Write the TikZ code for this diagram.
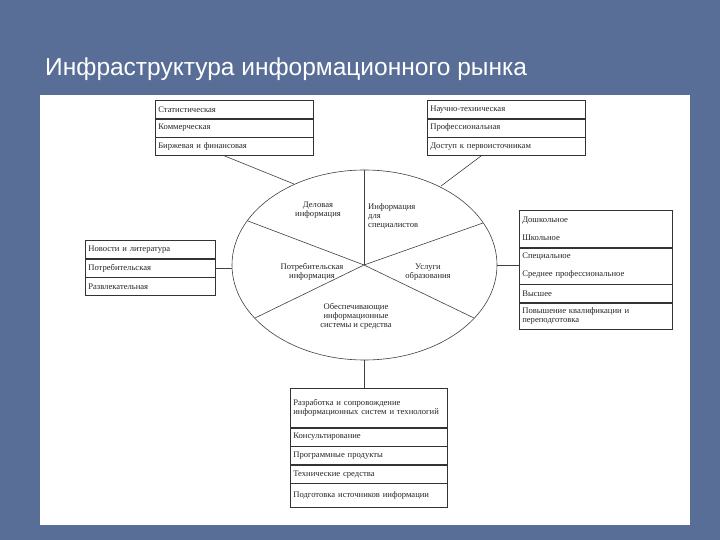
\documentclass[tikz,border=0pt]{standalone}
\usepackage{fontspec}
\usetikzlibrary{shapes.geometric}
\setmainfont{Liberation Serif}
\newfontfamily\titlefont{Liberation Sans}
\begin{document}
\begin{tikzpicture}[x=1pt,y=-1pt,
  cell/.style={draw=black!80,line width=0.6pt,minimum height=18pt,text width=#1,align=left,inner sep=3pt,anchor=north west,font=\fontsize{8.6}{9}\selectfont,text=black!85},
  lbl/.style={font=\fontsize{8.6}{9}\selectfont,align=center,inner sep=0pt,text=black!85},
  ln/.style={draw=black!75,line width=0.6pt}]
\useasboundingbox (0,0) rectangle (720,540);
\fill[color={rgb,255:red,88;green,110;blue,150}] (0,0) rectangle (720,540);
\fill[white] (40,95) rectangle (690,525);
\node[anchor=west,text=white,font=\titlefont\fontsize{24.5}{26}\selectfont,inner sep=0pt] (title) at (45,69) {Инфраструктура информационного рынка};
% ellipse
\node[draw=black!75,line width=0.6pt,ellipse,minimum width=265pt,minimum height=190pt] (E) at (364.5,265) {};
\coordinate (c) at (364,265);
\coordinate (pt) at (364,170);
\coordinate (pul) at (248,221);
\coordinate (pur) at (483,223);
\coordinate (pll) at (255,318);
\coordinate (plr) at (474,318);
\draw[ln] (c) -- (pt); \draw[ln] (c) -- (pul); \draw[ln] (c) -- (pur);
\draw[ln] (c) -- (pll); \draw[ln] (c) -- (plr);
\node[lbl] (l1) at (318,210) {Деловая\\информация};
\node[lbl,align=left,anchor=west] (l2) at (368,216) {Информация\\для\\специалистов};
\node[lbl] (l3) at (312,272) {Потребительская\\информация};
\node[lbl] (l4) at (428,272) {Услуги\\образования};
\node[lbl] (l5) at (356,316) {Обеспечивающие\\информационные\\системы и средства};
% top-left
\node[cell=152pt] (a1) at (155,100) {Статистическая};
\node[cell=152pt] (a2) at (a1.south west) {Коммерческая};
\node[cell=152pt] (a3) at (a2.south west) {Биржевая и финансовая};
% top-right
\node[cell=152pt] (b1) at (427,100) {Научно-техническая};
\node[cell=152pt] (b2) at (b1.south west) {Профессиональная};
\node[cell=152pt] (b3) at (b2.south west) {Доступ к первоисточникам};
\coordinate (ea) at (294,184);
\coordinate (eb) at (441,186);
\draw[ln] ([xshift=-10pt]a3.south) -- (ea);
\draw[ln] ([xshift=-25pt]b3.south) -- (eb);
% left
\node[cell=124pt] (c1) at (85,240) {Новости и литература};
\node[cell=124pt] (c2) at (c1.south west) {Потребительская};
\node[cell=124pt] (c3) at (c2.south west) {Развлекательная};
\draw[ln] (c2.east) -- (c2.east -| E.west);
% right
\node[cell=147pt,minimum height=37pt,font=\fontsize{8.6}{18.5}\selectfont] (d1) at (519,210) {Дошкольное\\Школьное};
\node[cell=147pt,minimum height=36pt,font=\fontsize{8.6}{18}\selectfont] (d2) at (d1.south west) {Специальное\\Среднее профессиональное};
\node[cell=147pt] (d3) at (d2.south west) {Высшее};
\node[cell=147pt,minimum height=26pt] (d4) at (d3.south west) {Повышение квалификации и переподготовка};
\draw[ln] (E.east) -- (E.east -| d1.west);
% bottom
\node[cell=151pt,minimum height=39pt] (f1) at (290,388) {Разработка и сопровождение информационных систем и технологий};
\node[cell=151pt] (f2) at (f1.south west) {Консультирование};
\node[cell=151pt] (f3) at (f2.south west) {Программные продукты};
\node[cell=151pt] (f4) at (f3.south west) {Технические средства};
\node[cell=151pt,minimum height=24pt] (f5) at (f4.south west) {Подготовка источников информации};
\draw[ln] (E.south) -- (E.south |- f1.north);
\end{tikzpicture}
\end{document}
